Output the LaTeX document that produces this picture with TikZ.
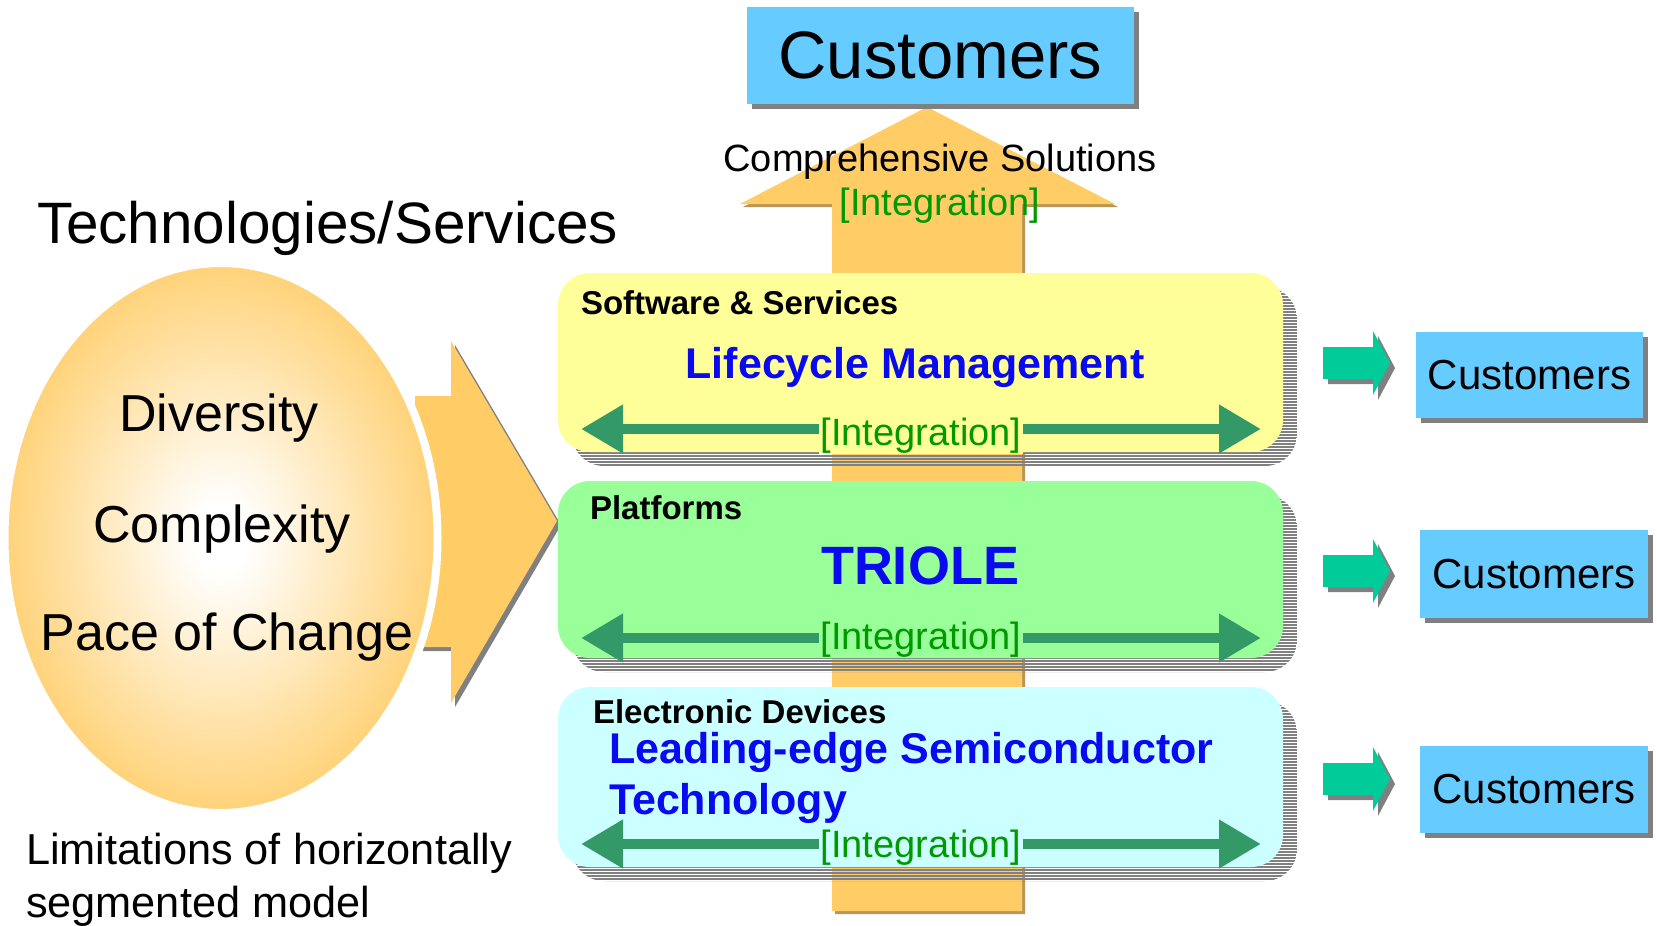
\documentclass[tikz,border=0pt]{standalone}
\usepackage{fontspec}
\setmainfont{Liberation Sans}
\usetikzlibrary{arrows.meta,shapes.geometric}
\definecolor{custblue}{HTML}{66CCFF}
\definecolor{orangeA}{HTML}{FFCC66}
\definecolor{orangeSh}{RGB}{185,150,85}
\definecolor{panelY}{HTML}{FFFF99}
\definecolor{panelG}{HTML}{99FF99}
\definecolor{panelC}{HTML}{CCFFFF}
\definecolor{intarrow}{HTML}{339966}
\definecolor{inttext}{HTML}{009900}
\definecolor{rarrow}{HTML}{00CC99}
\definecolor{deepblue}{RGB}{10,10,240}
\definecolor{shadowgray}{RGB}{128,128,128}
\pgfdeclareradialshading{ellshade}{\pgfpoint{0bp}{0bp}}{color(0bp)=(white); color(3bp)=(white); color(28bp)=(orangeA); color(50bp)=(orangeA)}
\newcommand\setfs[1]{\fontsize{#1}{#1}\selectfont}
\begin{document}
\begin{tikzpicture}[x=1pt,y=-1pt,
  txt/.style={inner sep=0pt, outer sep=0pt, text=black},
  custbox/.style={fill=custblue, draw=none, inner sep=0pt},
  boxshadow/.style={fill=shadowgray, draw=none, inner sep=0pt},
  panel/.style={rounded corners=32pt, minimum width=725pt, inner sep=0pt, draw=none},
  pshade/.style={panel, path picture={
      \foreach \k in {0,...,61}{
        \draw[shadowgray, line width=2pt]
          ([yshift=-\k*3pt-1pt]path picture bounding box.north west) --
          ([yshift=-\k*3pt-1pt]path picture bounding box.north east);
      }}},
  intlabel/.style={inner sep=1.5pt, text=inttext, font=\setfs{38}, anchor=base},
  dblarrow/.style={draw=intarrow, line width=10.5pt, {Triangle[length=42pt,width=46pt]}-{Triangle[length=42pt,width=46pt]}},
  headtxt/.style={txt, font=\bfseries\setfs{33}, anchor=base west},
  maintxt/.style={txt, font=\bfseries\setfs{43}, text=deepblue},
  elltxt/.style={txt, font=\setfs{52}, anchor=base}
]
\useasboundingbox (0,0) rectangle (1657,926);

% up arrow
\fill[orangeSh] (930,110) -- (1118,207) -- (1025,207) -- (1025,914) -- (835,914) -- (835,207) -- (743,207) -- cycle;
\fill[orangeA] (927,107) -- (1115,204) -- (1022,204) -- (1022,911) -- (832,911) -- (832,204) -- (740,204) -- cycle;

% top customers box
\node[boxshadow, minimum width=387pt, minimum height=97pt] (topcusts) at (945.5,60.5) {};
\node[custbox, minimum width=387pt, minimum height=97pt, font=\setfs{67}] (topcust) at (940.5,55.5) {Customers};

\node[txt, font=\setfs{38}, anchor=base] (comp) at (940,171) {Comprehensive Solutions};
\node[txt, font=\setfs{38}, text=inttext, anchor=base] (compint) at (940,215) {[Integration]};

% chevron
\fill[shadowgray] (419,400) -- (455,400) -- (455,345) -- (561,525) -- (455,707) -- (455,651) -- (419,651) -- cycle;
\fill[orangeA] (415,396) -- (451,396) -- (451,341) -- (557,521) -- (451,703) -- (451,647) -- (415,647) -- cycle;

% ellipse
\node[ellipse, minimum width=433pt, minimum height=550pt, inner sep=0pt, shading=ellshade, draw=white, line width=8pt] (ell) at (221,538) {};
\node[elltxt] (div) at (219,431) {Diversity};
\node[elltxt] (cpx) at (222,542) {Complexity};
\node[elltxt] (pace) at (227,650) {Pace of Change};

\node[txt, font=\setfs{58.4}, anchor=base west] (tech) at (37,243) {Technologies/Services};
\node[txt, font=\setfs{43.3}, anchor=base west] (lim1) at (26,864) {Limitations of horizontally};
\node[txt, font=\setfs{43.3}, anchor=base west] (lim2) at (26,917) {segmented model};

% panels
\node[pshade, minimum height=179pt] (p1s) at (934.5,376.5) {};
\node[panel, fill=panelY, minimum height=179pt] (p1) at (920.5,362.5) {};
\node[pshade, minimum height=177pt] (p2s) at (934.5,583.5) {};
\node[panel, fill=panelG, minimum height=177pt] (p2) at (920.5,569.5) {};
\node[pshade, minimum height=180pt] (p3s) at (934.5,791) {};
\node[panel, fill=panelC, minimum height=180pt] (p3) at (920.5,777) {};

% panel 1
\node[headtxt] (p1h) at (581,314) {Software \& Services};
\node[maintxt, anchor=base] (p1m) at (915,378) {Lifecycle Management};
\coordinate (p1l) at (581,429); \coordinate (p1r) at (1261,429);
\draw[dblarrow] (p1l) -- (p1r);
\node[intlabel, fill=panelY] (p1i) at (921,445) {[Integration]};

% panel 2
\node[headtxt] (p2h) at (590,519) {Platforms};
\node[maintxt, font=\bfseries\setfs{54}, anchor=base] (p2m) at (920,584) {TRIOLE};
\coordinate (p2l) at (581,638); \coordinate (p2r) at (1261,638);
\draw[dblarrow] (p2l) -- (p2r);
\node[intlabel, fill=panelG] (p2i) at (921,649) {[Integration]};

% panel 3
\node[headtxt] (p3h) at (593,723) {Electronic Devices};
\node[maintxt, anchor=base west] (p3m1) at (609,763) {Leading-edge Semiconductor};
\node[maintxt, anchor=base west] (p3m2) at (609,814) {Technology};
\coordinate (p3l) at (581,844); \coordinate (p3r) at (1261,844);
\draw[dblarrow] (p3l) -- (p3r);
\node[intlabel, fill=panelC] (p3i) at (921,857) {[Integration]};

% right arrows
\foreach \c in {363,571,779}{
  \fill[shadowgray] (1328,\c-11) -- (1378,\c-11) -- (1378,\c-27) -- (1395,\c+5) -- (1378,\c+37) -- (1378,\c+21) -- (1328,\c+21) -- cycle;
  \fill[rarrow] (1323,\c-16) -- (1373,\c-16) -- (1373,\c-32) -- (1390,\c) -- (1373,\c+32) -- (1373,\c+16) -- (1323,\c+16) -- cycle;
}

% right customers boxes
\node[boxshadow, minimum width=227pt, minimum height=86pt] (c1s) at (1534.5,380) {};
\node[custbox, minimum width=227pt, minimum height=86pt, font=\setfs{42}] (c1) at (1529.5,375) {Customers};
\node[boxshadow, minimum width=228pt, minimum height=88pt] (c2s) at (1539,579) {};
\node[custbox, minimum width=228pt, minimum height=88pt, font=\setfs{42}] (c2) at (1534,574) {Customers};
\node[boxshadow, minimum width=228pt, minimum height=87pt] (c3s) at (1539,794.5) {};
\node[custbox, minimum width=228pt, minimum height=87pt, font=\setfs{42}] (c3) at (1534,789.5) {Customers};
\end{tikzpicture}
\end{document}
